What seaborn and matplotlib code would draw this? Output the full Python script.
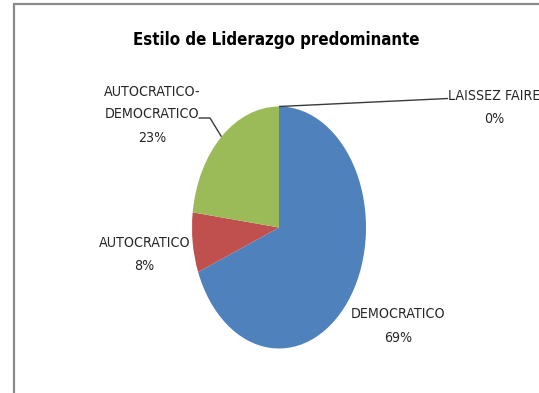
import numpy as np
import matplotlib
matplotlib.use("Agg")
import matplotlib.pyplot as plt
from matplotlib import font_manager
from matplotlib.lines import Line2D
import seaborn as sns

# Survey result: predominant leadership style
categories = ["DEMOCRATICO", "AUTOCRATICO", "AUTOCRATICO-\nDEMOCRATICO", "LAISSEZ FAIRE"]
shares = [69, 8, 23, 0]
colors = ["#4F81BD", "#C0504D", "#9BBB59", "#8064A2"]
title = "Estilo de Liderazgo predominante"

sns.set_theme(style="white")

# prefer a condensed face when one is installed
condensed = any(f.name == "DejaVu Sans" and str(f.stretch) in ("condensed", "semi-condensed")
                for f in font_manager.fontManager.ttflist)
if condensed:
    plt.rcParams["font.family"] = ["DejaVu Sans"]
    plt.rcParams["font.stretch"] = "condensed"
else:
    plt.rcParams["font.family"] = ["Liberation Sans", "DejaVu Sans"]

W, H = 539, 393
fig = plt.figure(figsize=(W / 100, H / 100), dpi=100)
ax = fig.add_axes([0, 0, 1, 1])

wedges, _ = ax.pie(shares, colors=sns.color_palette(colors), startangle=90,
                   counterclock=False, wedgeprops=dict(linewidth=0))

# stretched (elliptical) pie: centre at (279, 227.5) px, radii 87 x 121 px
cx, cy, rx, ry = 279.0, 227.5, 87.0, 121.0
ax.set_aspect("auto")
ax.set_xlim(-cx / rx, (W - cx) / rx)
ax.set_ylim(-(H - cy) / ry, cy / ry)
ax.axis("off")
renderer = fig.canvas.get_renderer()


def to_data(px, py):
    return ax.transData.inverted().transform((px, H - py))


def wedge_anchor(w):
    mid = np.deg2rad((w.theta1 + w.theta2) / 2)
    return np.cos(mid), np.sin(mid)


def fit_size(text, width_px, **kw):
    t = ax.text(0, 0, text, fontsize=10, **kw)
    w = t.get_window_extent(renderer).width
    t.remove()
    return 10 * width_px / w


def put_line(text, px, py_mid, size, **kw):
    # py_mid is the vertical middle of the capitals, in pixels from the top
    cap = 0.72 * size * 100 / 72
    x, y = to_data(px, py_mid + cap / 2)
    ax.text(x, y, text, ha="center", va="baseline", fontsize=size, **kw)


label_color = "#262626"
label_size = fit_size("DEMOCRATICO", 87) * 1.08

# (x centre, [y middle of each line]) in pixels
label_pos = {
    "DEMOCRATICO": (398.3, [313.3, 337.3]),
    "AUTOCRATICO": (144.5, [241.7, 265.0]),
    "AUTOCRATICO-\nDEMOCRATICO": (152.0, [91.0, 113.3, 136.7]),
    "LAISSEZ FAIRE": (494.0, [95.0, 118.3]),
}
for name, val in zip(categories, shares):
    px, ys = label_pos[name]
    lines = name.split("\n") + [f"{val}%"]
    for line, py in zip(lines, ys):
        put_line(line, px, py, label_size, color=label_color)

# leader lines
line_kw = dict(color="#3a3a3a", lw=1.0, clip_on=False, solid_capstyle="butt")
gx, gy = wedge_anchor(wedges[2])
p1 = to_data(210, 118)
p2 = to_data(198.5, 118)
ax.plot([gx, p1[0], p2[0]], [gy, p1[1], p2[1]], **line_kw)

lx, ly = wedge_anchor(wedges[3])
q = to_data(448, 98.5)
ax.plot([lx, q[0]], [ly, q[1]], **line_kw)

# title
title_size = fit_size(title, 273, fontweight="bold") * 1.04
put_line(title, 276.5, 38.7, title_size, fontweight="bold", color="black")

# chart area border (left and top edges)
border = dict(color="#8a8a8a", lw=1.6, transform=None)
fig.add_artist(Line2D([14.3, 14.3], [0, H - 4], **border))
fig.add_artist(Line2D([14.3, W], [H - 4, H - 4], **border))

fig.savefig("out.png", dpi=100)
